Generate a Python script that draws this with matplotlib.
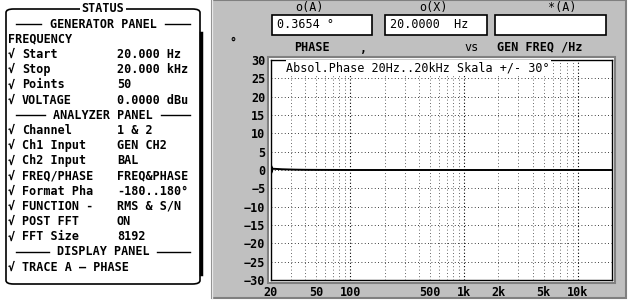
import numpy as np
import matplotlib
matplotlib.use('Agg')
import matplotlib.pyplot as plt
from matplotlib import patches
from matplotlib.lines import Line2D

# sweep data (phase vs generator frequency)
freq = [20, 25, 32, 40, 50, 63, 80, 100, 200, 500, 1000, 2000, 5000, 10000, 20000]
phase = [0.37, 0.2, 0.1, 0.05, 0.03, 0.02, 0.01, 0.0, 0.0, 0.0, 0.0, 0.0, 0.0, 0.0, 0.0]

xticks = [20, 50, 100, 500, 1000, 2000, 5000, 10000]
xticklabels = ['20', '50', '100', '500', '1k', '2k', '5k', '10k']
yticks = list(range(-30, 31, 5))

status_rows = [
    ('hdr', 'GENERATOR PANEL', ''),
    ('plain', 'FREQUENCY', ''),
    ('chk', 'Start', '20.000 Hz'),
    ('chk', 'Stop', '20.000 kHz'),
    ('chk', 'Points', '50'),
    ('chk', 'VOLTAGE', '0.0000 dBu'),
    ('hdr', 'ANALYZER PANEL', ''),
    ('chk', 'Channel', '1 & 2'),
    ('chk', 'Ch1 Input', 'GEN CH2'),
    ('chk', 'Ch2 Input', 'BAL'),
    ('chk', 'FREQ/PHASE', 'FREQ&PHASE'),
    ('chk', 'Format Pha', '-180..180°'),
    ('chk', 'FUNCTION -', 'RMS & S/N'),
    ('chk', 'POST FFT', 'ON'),
    ('chk', 'FFT Size', '8192'),
    ('hdr', 'DISPLAY PANEL', ''),
    ('chk', 'TRACE A \u2014 PHASE', ''),
]

W, H = 632, 300
fig = plt.figure(figsize=(W / 100, H / 100), dpi=100)
fig.patch.set_facecolor('white')
FONT = dict(family='DejaVu Sans Mono', fontweight='bold', fontsize=8.5)


def fx(x):
    return x / W


def fy(y):
    return 1 - y / H


def ftext(x, y, s, **kw):
    opts = dict(FONT)
    opts.update(kw)
    fig.text(fx(x), fy(y), s, transform=fig.transFigure, va='center', **opts)


def fline(x0, x1, y0, y1, **kw):
    fig.add_artist(Line2D([fx(x0), fx(x1)], [fy(y0), fy(y1)], transform=fig.transFigure, **kw))


# ---- left status panel ----
fig.add_artist(patches.FancyBboxPatch((fx(6), fy(284)), fx(200) - fx(6), fy(9) - fy(284),
                                      boxstyle='round,pad=0,rounding_size=0.012',
                                      transform=fig.transFigure, fill=False, ec='black', lw=1.2))
fline(201, 201, 33, 274, color='black', lw=2.5)
fig.text(fx(103), fy(8), 'STATUS', ha='center', va='center', bbox=dict(fc='white', ec='none', pad=1), **FONT)

y = 24
for kind, label, value in status_rows:
    if kind == 'hdr':
        half = len(label) * 7.6 / 2
        ftext(103, y, label, ha='center')
        fline(16, 103 - half - 5, y, y, color='black', lw=1)
        fline(103 + half + 5, 190, y, y, color='black', lw=1)
    elif kind == 'plain':
        ftext(8, y, label)
    else:
        ftext(8, y, '\u221a')
        ftext(22, y, label)
        if value:
            ftext(117, y, value)
    y += 15.2

# ---- right measurement panel ----
fig.add_artist(patches.Rectangle((fx(212), fy(298)), fx(626) - fx(212), fy(0) - fy(298),
                                 transform=fig.transFigure, fc='#c0c0c0', ec='#808080', lw=1.5, zorder=0.5))
fline(212, 212, 0, 298, color='#e8e8e8', lw=1, zorder=0.6)

readouts = [('o(A)', 309, 272, 372, '0.3654 \u00b0'),
            ('o(X)', 433, 385, 487, '20.0000  Hz'),
            ('*(A)', 562, 495, 606, '')]
for lab, cx, x0, x1, val in readouts:
    ftext(cx, 7, lab, ha='center', fontweight='normal')
    fig.add_artist(patches.Rectangle((fx(x0), fy(35)), fx(x1) - fx(x0), fy(15) - fy(35),
                                     transform=fig.transFigure, fc='white', ec='black', lw=1.2, zorder=0.7))
    ftext(x0 + 5, 25, val, fontweight='normal')

ftext(229, 42, '\u00b0')
ftext(312, 47, 'PHASE', ha='center')
ftext(360, 49, ',')
ftext(472, 47, 'vs', ha='center', fontweight='normal')
ftext(540, 47, 'GEN FREQ /Hz', ha='center')

# ---- plot ----
L, R, T, B = 271, 612, 60, 280
fig.add_artist(patches.Rectangle((fx(L - 3), fy(B + 3)), fx(R + 3) - fx(L - 3), fy(T - 3) - fy(B + 3),
                                 transform=fig.transFigure, fc='white', ec='#808080', lw=1.5, zorder=0.8))
ax = fig.add_axes([fx(L), fy(B), fx(R) - fx(L), fy(T) - fy(B)])
ax.set_zorder(2)
ax.set_facecolor('white')
ax.set_xscale('log')
ax.set_xlim(20, 20000)
ax.set_ylim(-30, 30)

for v in yticks:
    ax.axhline(v, color='black', lw=0.6, ls=(0, (1, 3)), zorder=1)
for dec in [10, 100, 1000, 10000]:
    for m in range(1, 10):
        f = dec * m
        if 20 < f < 20000:
            if m == 1:
                ax.axvline(f, color='black', lw=0.8, ls=(0, (1, 2)), zorder=1)
            else:
                ax.axvline(f, color='#333333', lw=0.6, ls=(0, (1, 3)), zorder=1)

ax.plot(freq, phase, color='black', lw=1.4, zorder=3)
ax.plot([freq[0]], [phase[0]], marker='$)$', color='black', ms=6, zorder=4)

ax.set_xticks(xticks)
ax.set_xticklabels(xticklabels)
ax.set_yticks(yticks)
ax.xaxis.set_minor_locator(matplotlib.ticker.NullLocator())
ax.tick_params(length=0, pad=4)
for t in ax.get_xticklabels() + ax.get_yticklabels():
    t.set_fontfamily('DejaVu Sans Mono')
    t.set_fontweight('bold')
    t.set_fontsize(8.5)
for s in ax.spines.values():
    s.set_color('black')
    s.set_linewidth(1)

ax.text(0.045, 0.965, 'Absol.Phase 20Hz..20kHz Skala +/- 30\u00b0', transform=ax.transAxes,
        family='DejaVu Sans Mono', fontsize=8.5, va='center', ha='left',
        bbox=dict(fc='white', ec='none', pad=0.5))

fig.savefig('out.png', dpi=100)
